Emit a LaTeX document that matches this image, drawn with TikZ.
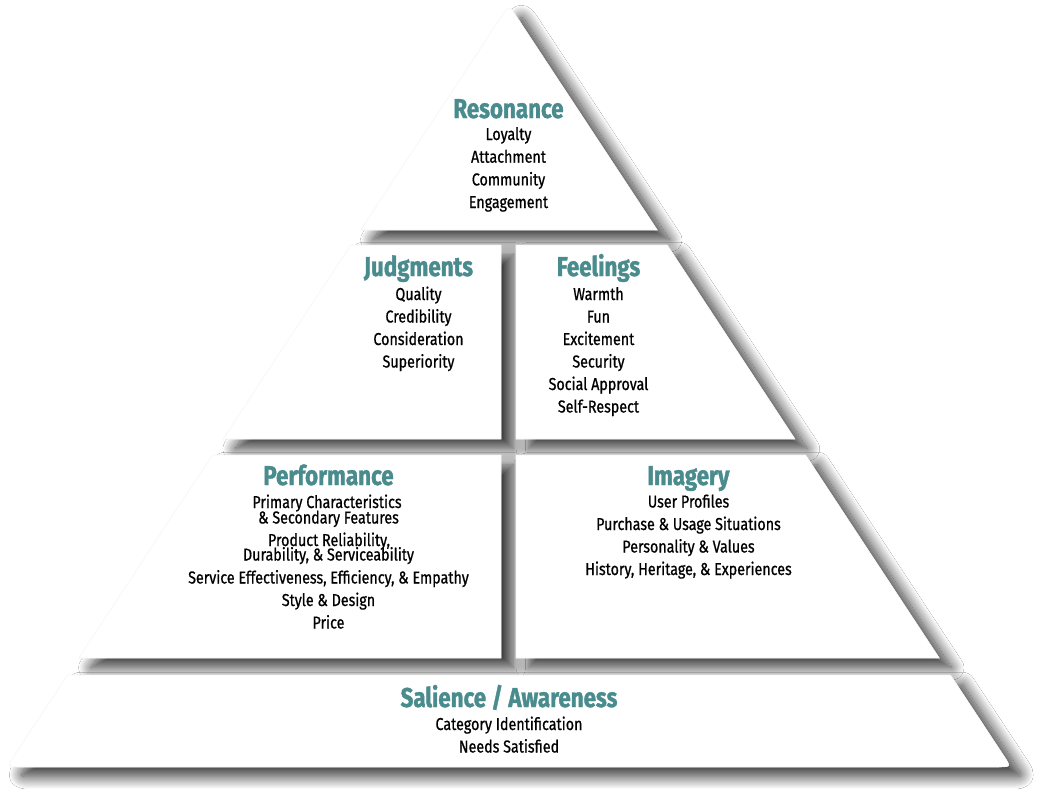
\documentclass[tikz,border=0pt]{standalone}
\usepackage{fontspec}
\setmainfont{Fira Sans}[FakeStretch=0.83, FakeBold=0.8]
\newfontfamily\headfont{Fira Sans}[FakeStretch=0.82, FakeBold=1.3]
\usetikzlibrary{shadows.blur}
\definecolor{headteal}{RGB}{74,140,142}

\tikzset{
  tiershadow/.style={fill=white, blur shadow={shadow xshift=7pt, shadow yshift=-5.5pt,
      shadow blur radius=7pt, shadow opacity=80, shadow blur steps=24}},
  tier/.style={fill=white, draw=black!4, line width=0.3pt},
  head/.style={anchor=base, inner sep=0pt, text=headteal,
      font=\headfont\bfseries\fontsize{15.5}{18}\selectfont},
  item/.style={anchor=base, inner sep=0pt, text=black,
      font=\fontsize{9.8}{12}\selectfont},
}

% outlines of the pyramid tiers (pixel grid, y pointing down)
\def\resonance{(360.7,230) -- (501.3,16.7) .. controls (509,5) .. (516.7,16.7) -- (657.3,230) -- cycle}
\def\judgments{(350.8,245) -- (501,245) -- (501,439) -- (223,439) -- cycle}
\def\feelings{(516,245) -- (667.2,245) -- (795,439) -- (516,439) -- cycle}
\def\performance{(212.4,455) -- (501,455) -- (501,658) -- (78.7,658) -- cycle}
\def\imagery{(516,455) -- (805.6,455) -- (939.3,658) -- (516,658) -- cycle}
\def\salience{(67.5,675) -- (14.5,755.3) .. controls (6.8,767) .. (20.8,767) -- (997.2,767) .. controls (1011.2,767) .. (1003.5,755.3) -- (950.5,675) -- cycle}

\begin{document}
\begin{tikzpicture}[x=0.02cm, y=-0.02cm]
  \useasboundingbox[fill=white] (0,0) rectangle (1038,801);

  % soft shadows first, then the white tiers on top
  \path[tiershadow] \resonance;
  \path[tiershadow] \judgments;
  \path[tiershadow] \feelings;
  \path[tiershadow] \performance;
  \path[tiershadow] \imagery;
  \path[tiershadow] \salience;

  \path[tier] \resonance;
  \path[tier] \judgments;
  \path[tier] \feelings;
  \path[tier] \performance;
  \path[tier] \imagery;
  \path[tier] \salience;

  % Resonance
  \node[head] (resH) at (508.5,118) {Resonance};
  \node[item] (res1) at (508.5,140) {Loyalty};
  \node[item] (res2) at (508.5,162.7) {Attachment};
  \node[item] (res3) at (508.5,185.4) {Community};
  \node[item] (res4) at (508.5,208) {Engagement};

  % Judgments
  \node[head] (judH) at (418.5,276) {Judgments};
  \node[item] (jud1) at (418.5,300) {Quality};
  \node[item] (jud2) at (418.5,322.5) {Credibility};
  \node[item] (jud3) at (418.5,345) {Consideration};
  \node[item] (jud4) at (418.5,367.5) {Superiority};

  % Feelings
  \node[head] (feeH) at (598.5,276) {Feelings};
  \node[item] (fee1) at (598.5,300) {Warmth};
  \node[item] (fee2) at (598.5,322.5) {Fun};
  \node[item] (fee3) at (598.5,345) {Excitement};
  \node[item] (fee4) at (598.5,367.5) {Security};
  \node[item] (fee5) at (598.5,390) {Social Approval};
  \node[item] (fee6) at (598.5,412.5) {Self-Respect};

  % Performance
  \node[head] (perH) at (328.5,485) {Performance};
  \node[item] (per1) at (327,508) {Primary Characteristics};
  \node[item] (per2) at (328.5,523.5) {\&~Secondary Features};
  \node[item] (per3) at (329,546) {Product Reliability,};
  \node[item] (per4) at (328.5,560.5) {Durability, \& Serviceability};
  \node[item] (per5) at (328.5,583.5) {Service Effectiveness, Efficiency, \& Empathy};
  \node[item] (per6) at (328.5,606) {Style \& Design};
  \node[item] (per7) at (328.5,628.5) {Price};

  % Imagery
  \node[head] (imaH) at (688.5,485) {Imagery};
  \node[item] (ima1) at (688.5,507.5) {User Profiles};
  \node[item] (ima2) at (688.5,530) {Purchase \& Usage Situations};
  \node[item] (ima3) at (688.5,552.5) {Personality \& Values};
  \node[item] (ima4) at (688.5,575) {History, Heritage, \& Experiences};

  % Salience / Awareness
  \node[head] (salH) at (509,707) {Salience / Awareness};
  \node[item] (sal1) at (509,730) {Category Identification};
  \node[item] (sal2) at (509,752.5) {Needs Satisfied};
\end{tikzpicture}
\end{document}
